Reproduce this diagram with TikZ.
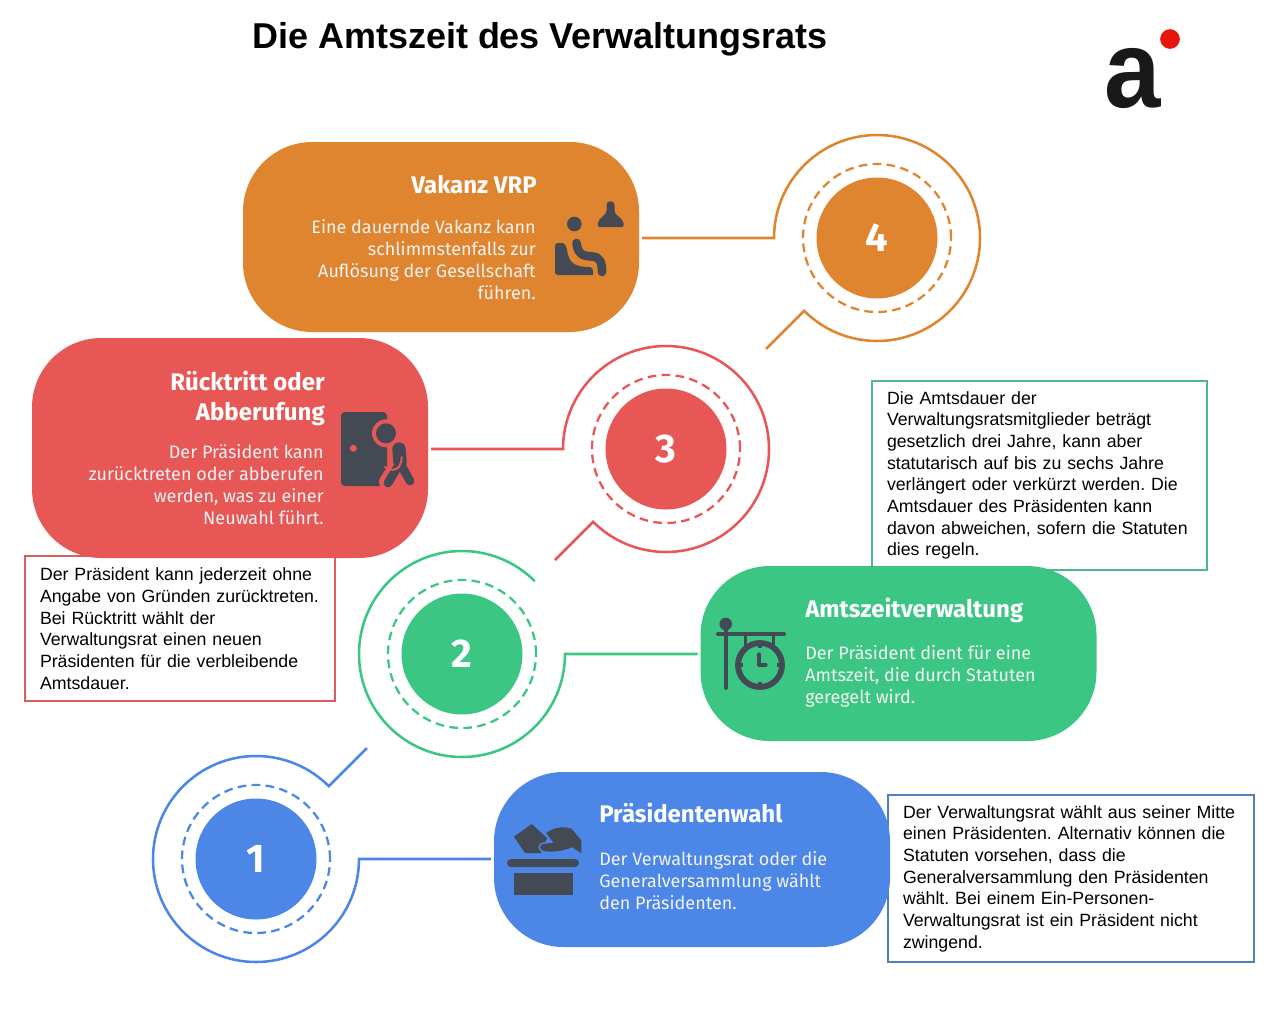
\documentclass[tikz,border=0pt]{standalone}
\usepackage{fontspec}
\setmainfont{Liberation Sans}
\newfontfamily\cardfont{Fira Sans}
\usetikzlibrary{calc}
\definecolor{orangeV}{HTML}{DF8530}
\definecolor{redR}{HTML}{E75755}
\definecolor{greenA}{HTML}{3CC684}
\definecolor{blueP}{HTML}{4C87E8}
\definecolor{iconGray}{HTML}{434A54}
\definecolor{lineR}{HTML}{D8605C}
\definecolor{lineA}{HTML}{4DB88C}
\definecolor{lineP}{HTML}{4F81BD}
\definecolor{logoRed}{HTML}{E3170A}
\tikzset{
  card/.style={rectangle, fill=#1, rounded corners=52pt, minimum width=297pt, inner sep=0pt, outer sep=0pt},
  cardhead/.style={inner sep=0pt, text=white, font=\cardfont\bfseries\fontsize{18}{22.5}\selectfont},
  cardtext/.style={inner sep=0pt, text=white!95!black, font=\cardfont\fontsize{13.5}{16.5}\selectfont},
  infobox/.style={rectangle, draw=#1, fill=white, line width=1.5pt, outer sep=0pt, inner xsep=11.25pt, inner ysep=0pt, anchor=north west, align=left, font=\frenchspacing\fontsize{13.3}{16.25}\selectfont},
  ringdisc/.style={circle, fill=#1, text=white, minimum size=90.75pt, inner sep=0pt, font=\cardfont\bfseries\fontsize{30}{30}\selectfont},
  ringdash/.style={circle, draw=#1, line width=1.7pt, dash pattern=on 6.5pt off 4pt, minimum size=111pt, inner sep=0pt},
  ringout/.style={circle, minimum size=154.5pt, inner sep=0pt, outer sep=0pt},
  ringline/.style={draw=#1, line width=1.9pt},
}
\begin{document}
\begin{tikzpicture}[x=0.75pt,y=-0.75pt]
\useasboundingbox (0,0) rectangle (1273,1017);

\node[font=\bfseries\fontsize{26.95}{27}\selectfont] (title) at (540,39) {Die Amtszeit des Verwaltungsrats};
\node[inner sep=0pt, xscale=0.95, yscale=1.03, font=\bfseries\fontsize{80}{80}\selectfont, text=black!90] (logo) at (1132.5,78) {a};
\filldraw [logoRed] (1170,39) circle (9.5);

% info boxes lie under the cards
\node[infobox=lineR, minimum width=232.5pt, minimum height=108.75pt, text width=210pt] (infoR) at (25,556) {Der Präsident kann jederzeit ohne\\Angabe von Gründen zurücktreten.\\Bei Rücktritt wählt der\\Verwaltungsrat einen neuen\\Präsidenten für die verbleibende\\Amtsdauer.};
\node[infobox=lineA, minimum width=251.25pt, minimum height=141.75pt, text width=228.75pt] (infoA) at (872,381) {Die Amtsdauer der\\Verwaltungsratsmitglieder beträgt\\gesetzlich drei Jahre, kann aber\\statutarisch auf bis zu sechs Jahre\\verlängert oder verkürzt werden. Die\\Amtsdauer des Präsidenten kann\\davon abweichen, sofern die Statuten\\dies regeln.};
\node[infobox=lineP, minimum width=274.5pt, minimum height=125.25pt, text width=252pt] (infoP) at (888,795) {Der Verwaltungsrat wählt aus seiner Mitte\\einen Präsidenten. Alternativ können die\\Statuten vorsehen, dass die\\Generalversammlung den Präsidenten\\wählt. Bei einem Ein-Personen-\\Verwaltungsrat ist ein Präsident nicht\\zwingend.};

% cards
\node[card=orangeV, minimum height=142.5pt] (cardV) at (441,237) {};
\node[card=redR, minimum height=165pt] (cardR) at (230,448) {};
\node[card=greenA, minimum height=131.25pt] (cardA) at (898.5,653.5) {};
\node[card=blueP, minimum height=131.25pt] (cardP) at (692,859.5) {};

\node[cardhead, anchor=north east, align=right] (headV) at (537,175.5) {Vakanz VRP};
\node[cardtext, anchor=north east, align=right] (textV) at (536,219) {Eine dauernde Vakanz kann\\schlimmstenfalls zur\\Auflösung der Gesellschaft\\führen.};
\node[cardhead, anchor=north east, align=right] (headR) at (325,371) {Rücktritt oder\\Abberufung};
\node[cardtext, anchor=north east, align=right] (textR) at (324,444) {Der Präsident kann\\zurücktreten oder abberufen\\werden, was zu einer\\Neuwahl führt.};
\node[cardhead, anchor=north west, align=left] (headA) at (805,598) {Amtszeitverwaltung};
\node[cardtext, anchor=north west, align=left] (textA) at (805,645.5) {Der Präsident dient für eine\\Amtszeit, die durch Statuten\\geregelt wird.};
\node[cardhead, anchor=north west, align=left] (headP) at (599,803) {Präsidentenwahl};
\node[cardtext, anchor=north west, align=left] (textP) at (599,851.5) {Der Verwaltungsrat oder die\\Generalversammlung wählt\\den Präsidenten.};

% rings
\node[ringdisc=orangeV] (disc4) at (877,238) {4};
\node[ringdash=orangeV] (dash4) at (disc4) {};
\node[ringout] (ring4) at (disc4) {};
\node[ringdisc=redR] (disc3) at (666,449) {3};
\node[ringdash=redR] (dash3) at (disc3) {};
\node[ringout] (ring3) at (disc3) {};
\node[ringdisc=greenA] (disc2) at (462,654) {2};
\node[ringdash=greenA] (dash2) at (disc2) {};
\node[ringout] (ring2) at (disc2) {};
\node[ringdisc=blueP] (disc1) at (256,859) {1};
\node[ringdash=blueP] (dash1) at (disc1) {};
\node[ringout] (ring1) at (disc1) {};

\coordinate (tail4) at (766,349);
\coordinate (tail3) at (555,560);
\coordinate (tail1) at (367,748);

\draw[ringline=orangeV, shorten <=2.25pt] (cardV.east |- ring4.west) -- (ring4.west) arc[start angle=180, end angle=495, radius=103] -- (tail4);
\draw[ringline=redR, shorten <=2.25pt] (cardR.east |- ring3.west) -- (ring3.west) arc[start angle=180, end angle=495, radius=103] -- (tail3);
\draw[ringline=greenA, shorten <=2.25pt] (cardA.west |- ring2.east) -- (ring2.east) arc[start angle=0, end angle=315, radius=103];
\draw[ringline=blueP, shorten <=2.25pt] (cardP.west |- ring1.east) -- (ring1.east) arc[start angle=0, end angle=315, radius=103] -- (tail1);

% icon seat and bell
\fill[iconGray] (574.3,224) circle (7.3);
\fill[iconGray] (555,245) to[bend left=10] (557,243) -- (562,243) .. controls (565,243) and (566,246) .. (567,250) .. controls (569,262) and (573,267) .. (590,267) .. controls (592,267) and (593,269) .. (593,271) -- (593,275) -- (557,275) to[bend left=10] (555,273) -- cycle;
\draw[iconGray, line width=6.5pt, line cap=round] (576.5,243) .. controls (578,254) and (582,256) .. (592,256.5) .. controls (600,257) and (602,262) .. (602,272);
\fill[iconGray] (599,227) .. controls (597,227) and (598,224) .. (598,223) .. controls (599,217) and (606,216) .. (606.5,211) -- (606.5,205) .. controls (606.5,200) and (614.5,200) .. (614.5,205) -- (614.5,211) .. controls (615,216) and (622,217) .. (623.5,223) .. controls (624,225) and (624,227) .. (622,227) -- cycle;

% icon door and person
\fill[iconGray, rounded corners=3pt] (341,412) rectangle (387,486);
\fill[redR] (353.3,448.3) circle (3.5);
\fill[redR] (386,433.3) circle (14);
\fill[redR] (400,470) -- (415,490) -- (375,490) -- cycle;
\draw[redR, line width=12pt, line cap=round] (399,449) -- (400,462) -- (387,482);
\fill[iconGray] (386,433.3) circle (10);
\draw[iconGray, line width=10pt, line cap=round] (399,449) -- (400,462);
\draw[iconGray, line width=6.5pt, line cap=round] (400,463) -- (388,483);
\draw[iconGray, line width=6.5pt, line cap=round] (400,463) -- (410,481);
\draw[redR, line width=1.5pt, line cap=round] (385,467) .. controls (390,471) and (401,473) .. (401.7,457);

% icon ballot box
\fill[iconGray, rounded corners=3pt] (507,859) rectangle (579,867);
\fill[iconGray] (514,873) rectangle (573,895);
\fill[iconGray] (514,836.7) -- (531.7,824) -- (547,838) -- (541,853) -- (525,853) -- cycle;
\filldraw[fill=iconGray, draw=blueP, line width=1pt] (545,833) .. controls (552,827) and (562,825) .. (572,828) -- (582,840) -- (582,855) -- (572,848) .. controls (566,851) and (556,853) .. (545,852) .. controls (537,851) and (537,843) .. (545,843) -- (552,842) -- cycle;

% icon clock sign
\fill[iconGray] (725.7,624) circle (6.3);
\draw[iconGray, line width=3pt, line cap=round] (725.7,624) -- (725.7,688);
\draw[iconGray, line width=3pt, line cap=round] (718,634) -- (784,634);
\draw[iconGray, line width=2.6pt] (745.7,634) -- (745.7,648);
\draw[iconGray, line width=2.6pt] (773.3,634) -- (773.3,648);
\draw[iconGray, line width=4.4pt] (760,665) circle (22);
\draw[iconGray, line width=2.4pt, line cap=round, line join=round] (759,654) -- (759,665) -- (766,665);
\foreach \a in {0,90,180,270}
  \draw[iconGray, line width=2.4pt] ($(760,665)+(\a:22)$) -- ($(760,665)+(\a:17)$);
\end{tikzpicture}
\end{document}
